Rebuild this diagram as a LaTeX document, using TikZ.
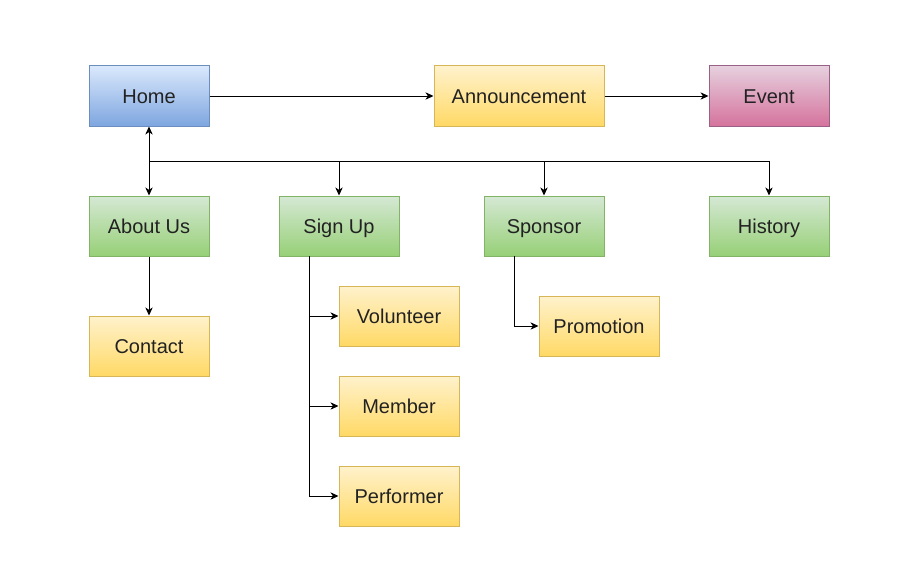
\documentclass[tikz,border=0pt]{standalone}
\usepackage{fontspec}
\setmainfont{Liberation Sans}
\usetikzlibrary{arrows.meta}
\definecolor{txt}{HTML}{222222}
\tikzset{
  box/.style={draw, line width=0.75pt, minimum width=90pt, minimum height=45pt, inner sep=0pt,
    text height=1.2em, text depth=0.05em,
    font=\fontsize{15}{18}\selectfont, text=txt, anchor=center},
  bluebox/.style={box, draw=blueB, top color=blueT, bottom color=blueD},
  yellowbox/.style={box, draw=yelB, top color=yelT, bottom color=yelD},
  greenbox/.style={box, draw=greB, top color=greT, bottom color=greD},
  pinkbox/.style={box, draw=pinB, top color=pinT, bottom color=pinD},
  tip/.tip={Stealth[length=6pt,width=5.5pt,inset=1.8pt]},
  conn/.style={draw=black, line width=0.75pt, -tip},
}
\definecolor{blueT}{HTML}{DAE8FC}\definecolor{blueD}{HTML}{7EA6E0}\definecolor{blueB}{HTML}{6C8EBF}
\definecolor{yelT}{HTML}{FFF2CC}\definecolor{yelD}{HTML}{FFD966}\definecolor{yelB}{HTML}{D6B656}
\definecolor{greT}{HTML}{D5E8D4}\definecolor{greD}{HTML}{97D077}\definecolor{greB}{HTML}{82B366}
\definecolor{pinT}{HTML}{E6D0DE}\definecolor{pinD}{HTML}{D5739D}\definecolor{pinB}{HTML}{996185}
\begin{document}
\begin{tikzpicture}[x=0.75pt,y=-0.75pt]
\fill[white] (0,0) rectangle (916,585);
\useasboundingbox (0,0) rectangle (916,585);
\node[bluebox] (home) at (149,96) {Home};
\node[yellowbox, minimum width=127.5pt] (ann) at (519,96) {Announcement};
\node[pinkbox] (event) at (769,96) {Event};
\node[greenbox] (about) at (149,226) {About Us};
\node[greenbox] (signup) at (339,226) {Sign Up};
\node[greenbox] (sponsor) at (544,226) {Sponsor};
\node[greenbox] (history) at (769,226) {History};
\node[yellowbox] (contact) at (149,346) {Contact};
\node[yellowbox] (vol) at (399,316) {Volunteer};
\node[yellowbox] (mem) at (399,406) {Member};
\node[yellowbox] (perf) at (399,496) {Performer};
\node[yellowbox] (promo) at (599,326) {Promotion};
\coordinate (bus) at (149,161);
\coordinate (su) at (309,256);
\coordinate (sp) at (514,256);
\draw[conn] (home) -- (ann);
\draw[conn] (ann) -- (event);
\draw[conn, tip-tip] (home) -- (about);
\draw[conn] (bus) -| (signup.north);
\draw[conn] (bus) -| (sponsor.north);
\draw[conn] (bus) -| (history.north);
\draw[conn] (about) -- (contact);
\draw[conn] (su) |- (vol.west);
\draw[conn] (su) |- (mem.west);
\draw[conn] (su) |- (perf.west);
\draw[conn] (sp) |- (promo.west);
\end{tikzpicture}
\end{document}
